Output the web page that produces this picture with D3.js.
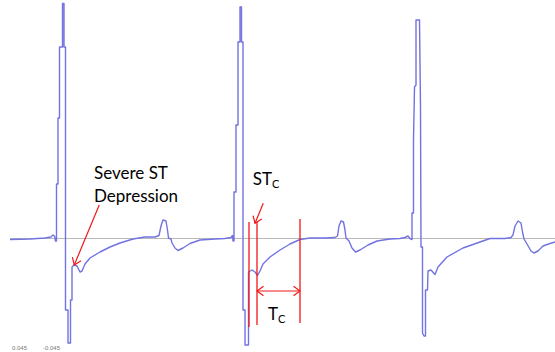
<!DOCTYPE html>
<html>
<head>
<meta charset="utf-8">
<script src="https://cdn.jsdelivr.net/npm/d3@7"></script>
<style>
  html, body { margin: 0; padding: 0; background: #fff; }
  svg { display: block; }
</style>
</head>
<body>
<svg id="chart" width="555" height="352"></svg>
<script>
// ECG trace: time in ms, amplitude in mV (three beats)
const timeMs = [
  40, 120, 180, 204, 212, 218, 222, 226, 226, 232, 232, 238, 238, 250, 250, 256, 256, 262, 262, 272,
  272, 282, 282, 288, 288, 296, 308, 320, 328, 340, 360, 400, 440, 480, 532, 580, 620, 636, 644, 652,
  664, 670, 674, 684, 688, 700, 712, 732, 760, 800, 860, 900,
  924, 930, 932, 936, 936, 944, 944, 952, 952, 960, 960, 966, 966, 972, 972, 980, 980, 990,
  994, 994, 1008, 1020, 1030, 1040, 1052, 1080, 1120, 1160, 1200, 1240, 1300, 1340, 1350, 1356, 1364, 1374,
  1380, 1384, 1396, 1408, 1422, 1440, 1472, 1508, 1560, 1600,
  1620, 1632, 1640, 1648, 1648, 1654, 1654, 1658, 1664, 1664, 1678, 1682, 1684, 1690, 1690, 1696, 1702, 1702,
  1710, 1712, 1724, 1740, 1752, 1788, 1852, 1920, 1960, 2020, 2044, 2052, 2060, 2072, 2084, 2090, 2096, 2108,
  2124, 2136, 2152, 2172, 2200, 2220
];
const amplitudeMv = [
  -0.01, -0.005, 0.005, 0.015, 0.035, 0.025, -0.025, -0.025, 0.545, 0.545, 1.205, 1.205, 1.915, 1.915, 2.35, 2.35, 1.915, 1.915, -0.715, -0.715,
  -1.045, -1.045, -0.615, -0.615, -0.285, -0.265, -0.275, -0.335, -0.325, -0.255, -0.195, -0.135, -0.085, -0.045, -0.005, 0.015, 0.015, 0.03, 0.125, 0.185,
  0.175, 0.085, 0.005, -0.005, -0.045, -0.095, -0.12, -0.095, -0.05, -0.015, -0.005, 0,
  0.01, 0.03, -0.025, -0.025, 0.465, 0.465, 1.135, 1.135, 1.965, 1.965, 2.315, 2.315, 1.965, 1.965, -0.715, -0.715, -1.065, -1.065,
  -1.065, -0.335, -0.315, -0.335, -0.37, -0.325, -0.255, -0.185, -0.115, -0.055, -0.01, 0.005, 0.005, 0.01, 0.025, 0.125, 0.175, 0.165,
  0.085, 0.005, -0.025, -0.095, -0.135, -0.115, -0.065, -0.025, -0.005, 0,
  0.01, 0.025, 0, -0.01, 0.255, 0.255, 0.985, 1.515, 1.535, 2.185, 2.185, 1.315, -0.085, -0.085, -0.945, -0.975, -0.975, -0.515,
  -0.515, -0.325, -0.315, -0.36, -0.285, -0.185, -0.095, -0.035, 0, 0, 0.01, 0.035, 0.125, 0.175, 0.155, 0.065, -0.005, -0.055,
  -0.125, -0.145, -0.125, -0.075, -0.05, -0.035
];

// Scale readouts printed in the lower-left corner
const scaleLabels = ["0.045", "-0.045"];
const scaleLabelTimes = [48, 172];

// ST / recovery-interval markers on the second beat (ms)
const stOnsetMs = 996;
const stcMs = 1028;
const recoveryMs = 1200;

const W = 555, H = 352;
const svg = d3.select("#chart");

const x = d3.scaleLinear().domain([0, 2220]).range([0, W]);
const y = d3.scaleLinear().domain([-1.135, 2.385]).range([H, 0]);

const pts = timeMs.map((t, i) => [t, amplitudeMv[i]]);

// isoelectric reference line
svg.append("line")
  .attr("x1", x(40)).attr("x2", x(2220))
  .attr("y1", y(0)).attr("y2", y(0))
  .attr("stroke", "#b8b8b8").attr("stroke-width", 1);

// the ECG trace
const line = d3.line().x(d => x(d[0])).y(d => y(d[1]));
svg.append("path")
  .datum(pts)
  .attr("d", line)
  .attr("fill", "none")
  .attr("stroke", "#7272e2")
  .attr("stroke-width", 1.4)
  .attr("stroke-linejoin", "round");

const red = "#f01818";
const font = "Lato, 'Open Sans', sans-serif";

function arrowHead(g, x0, y0, x1, y1, size) {
  const a = Math.atan2(y1 - y0, x1 - x0);
  const spread = Math.PI / 5;
  const p1 = [x1 - size * Math.cos(a - spread), y1 - size * Math.sin(a - spread)];
  const p2 = [x1 - size * Math.cos(a + spread), y1 - size * Math.sin(a + spread)];
  g.append("path")
    .attr("d", `M${p1[0]},${p1[1]}L${x1},${y1}L${p2[0]},${p2[1]}`)
    .attr("fill", "none").attr("stroke", red).attr("stroke-width", 1.2);
}

function arrow(t0, v0, t1, v1) {
  const g = svg.append("g");
  const X0 = x(t0), Y0 = y(v0), X1 = x(t1), Y1 = y(v1);
  g.append("line").attr("x1", X0).attr("y1", Y0).attr("x2", X1).attr("y2", Y1)
    .attr("stroke", red).attr("stroke-width", 1.2);
  arrowHead(g, X0, Y0, X1, Y1, 8);
  return g;
}

// "Severe ST Depression" callout, first beat
const sev = svg.append("text")
  .attr("x", x(376)).attr("y", y(0.595))
  .attr("font-family", font).attr("font-size", 17).attr("fill", "#000");
sev.append("tspan").attr("x", x(376)).text("Severe ST");
sev.append("tspan").attr("x", x(376)).attr("y", y(0.365)).text("Depression");
arrow(397, 0.335, 297, -0.265);

// vertical markers, second beat
[[stOnsetMs, 0.165, -0.885], [stcMs, 0.165, -0.865], [recoveryMs, 0.195, -0.845]].forEach(([t, top, bot]) => {
  svg.append("line")
    .attr("x1", x(t)).attr("x2", x(t))
    .attr("y1", y(top)).attr("y2", y(bot))
    .attr("stroke", red).attr("stroke-width", 1.3);
});

// ST_C label and pointer
const stc = svg.append("text")
  .attr("x", x(1011)).attr("y", y(0.535))
  .attr("font-family", font).attr("font-size", 17).attr("fill", "#000");
stc.append("tspan").text("ST");
stc.append("tspan").attr("font-size", 11).attr("dy", 3).text("C");
arrow(1053, 0.352, 1020, 0.152);

// T_C double-headed interval arrow
const tc = arrow(stcMs, -0.525, recoveryMs, -0.525);
arrowHead(tc, x(recoveryMs), y(-0.525), x(stcMs), y(-0.525), 8);
const tcl = svg.append("text")
  .attr("x", x(1072)).attr("y", y(-0.815))
  .attr("font-family", font).attr("font-size", 17).attr("fill", "#000");
tcl.append("tspan").text("T");
tcl.append("tspan").attr("font-size", 11).attr("dy", 3).text("C");

// scale readouts
svg.selectAll("text.scale")
  .data(scaleLabels)
  .enter().append("text")
  .attr("class", "scale")
  .attr("x", (d, i) => x(scaleLabelTimes[i]))
  .attr("y", 350)
  .attr("font-family", "'Liberation Sans', sans-serif")
  .attr("font-size", 6)
  .attr("fill", "#777")
  .text(d => d);
</script>
</body>
</html>
